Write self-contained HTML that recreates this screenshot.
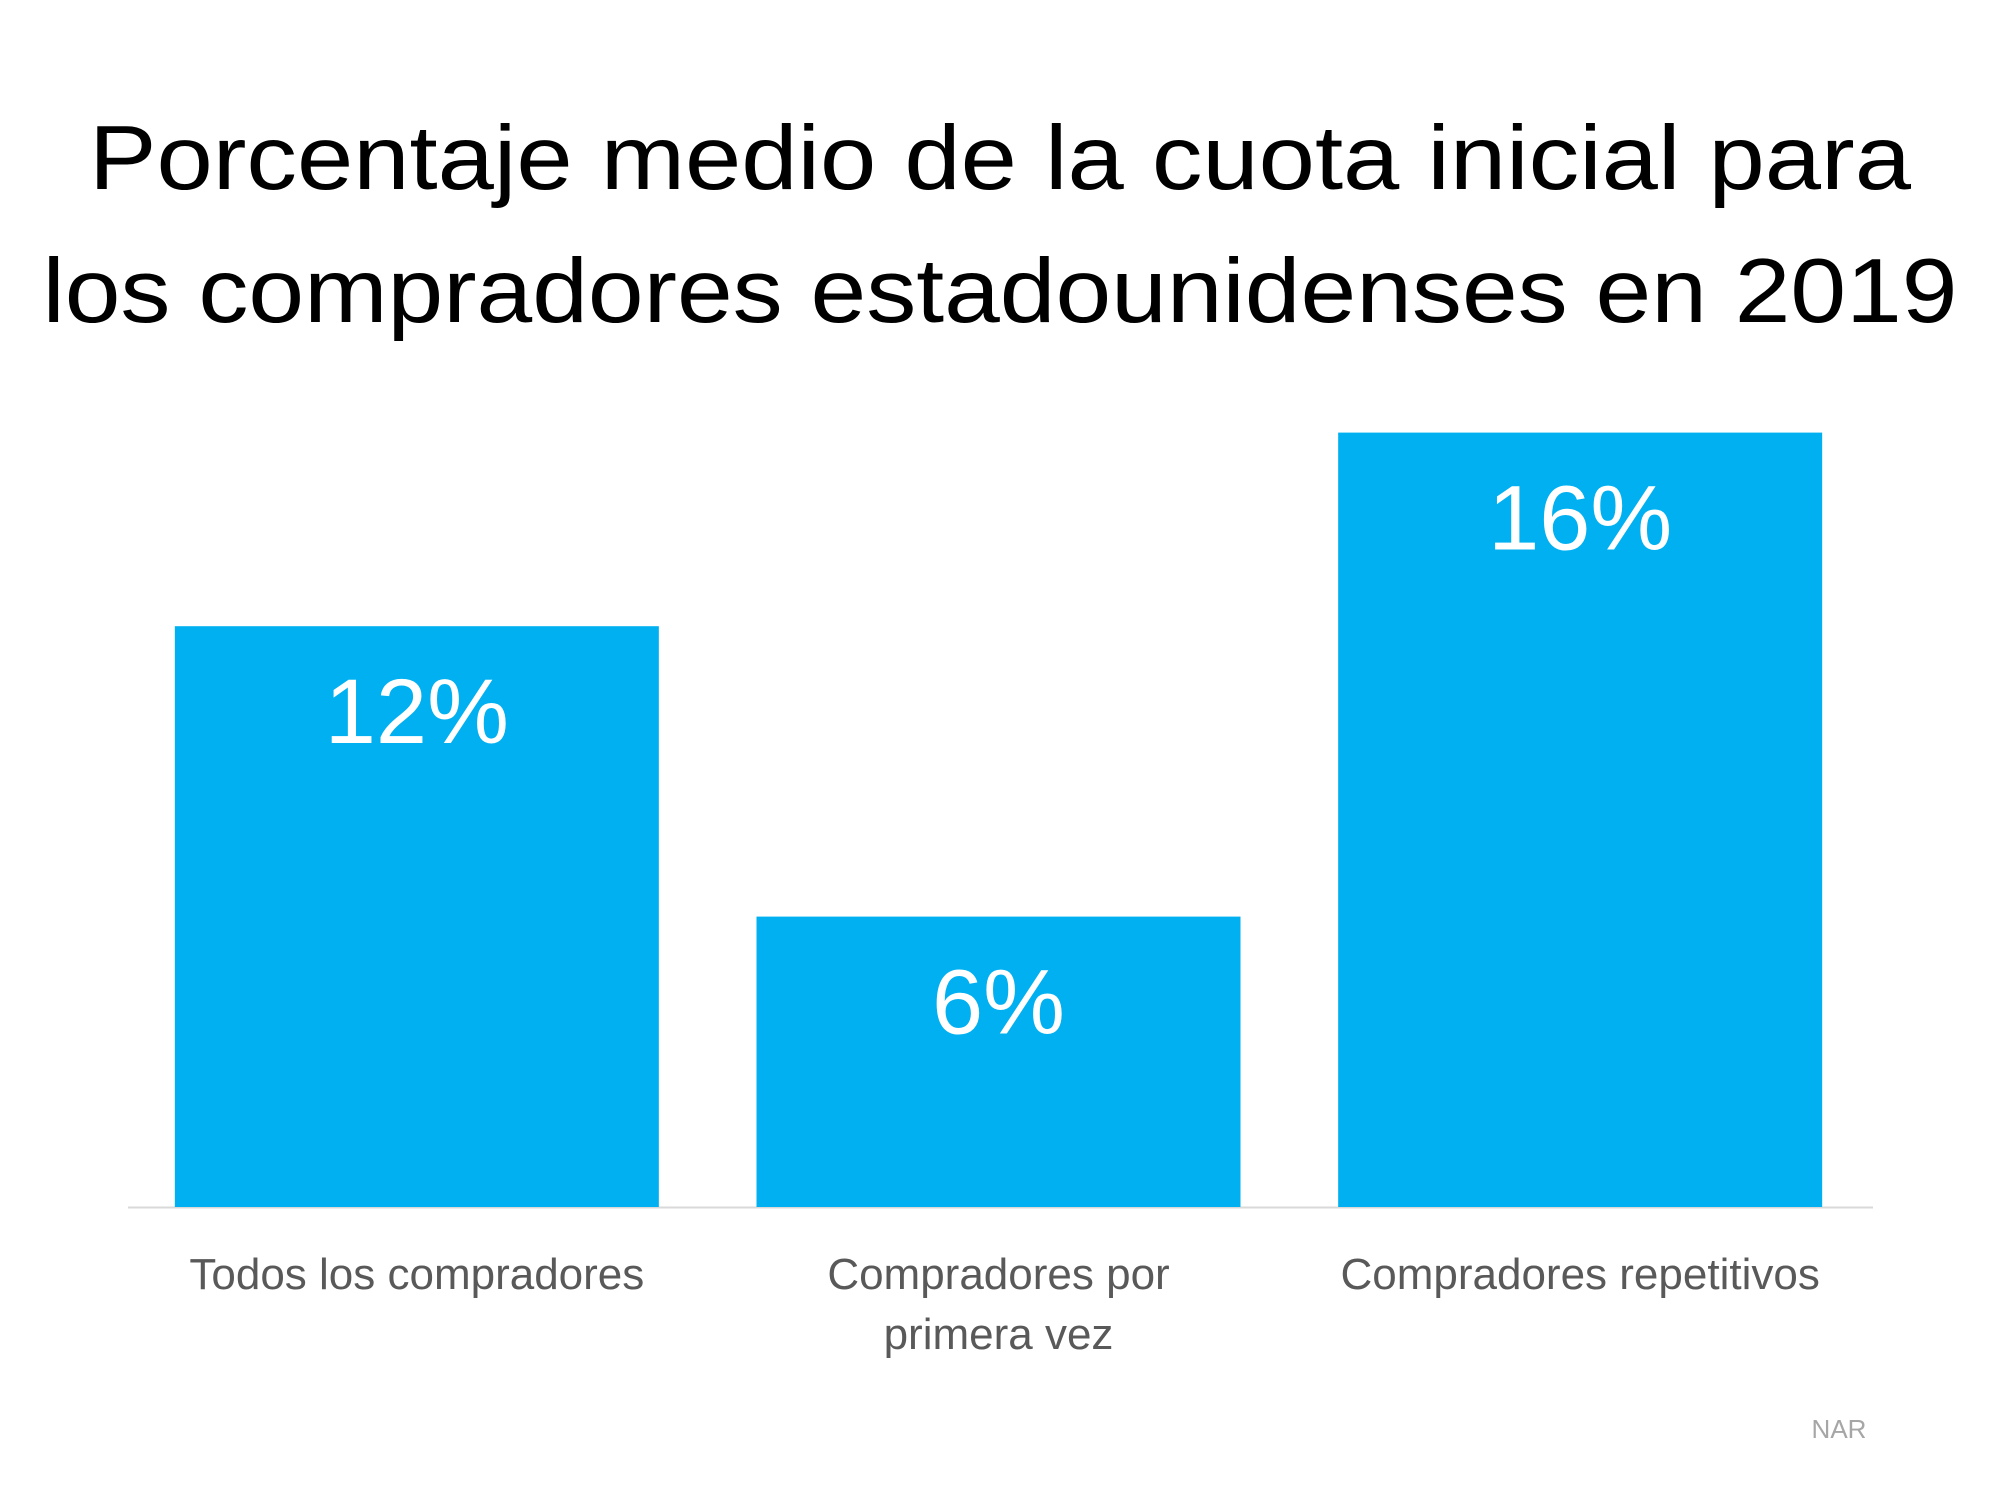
<!DOCTYPE html>
<html><head><meta charset="utf-8"><style>
html,body{margin:0;padding:0;background:#fff;}
svg{display:block;font-family:"Liberation Sans",sans-serif;}
</style></head><body>
<svg id="chart" width="2000" height="1500" viewBox="0 0 2000 1500">
<text x="1000" y="189" text-anchor="middle" font-size="91" fill="#000" textLength="1822" lengthAdjust="spacingAndGlyphs">Porcentaje medio de la cuota inicial para</text>
<text x="1000" y="322" text-anchor="middle" font-size="91" fill="#000" textLength="1915" lengthAdjust="spacingAndGlyphs">los compradores estadounidenses en 2019</text>
<line x1="128" y1="1207.5" x2="1873" y2="1207.5" stroke="#d9d9d9" stroke-width="2"/>
<g id="bars"></g>
<text x="1839" y="1438" text-anchor="middle" font-size="26" fill="#a6a6a6">NAR</text>
</svg>
<script>
const categories = [["Todos los compradores"], ["Compradores por", "primera vez"], ["Compradores repetitivos"]];
const values = [12, 6, 16];
const valueLabels = ["12%", "6%", "16%"];

const NS = "http://www.w3.org/2000/svg";
const baseY = 1207, pxPerUnit = 48.4;
const plotLeft = 128, plotRight = 1873;
const band = (plotRight - plotLeft) / categories.length;
const barW = 484;
function xCenter(i){ return plotLeft + band * (i + 0.5) - 2; }
function yScale(v){ return baseY - v * pxPerUnit; }
const g = document.getElementById('bars');
values.forEach((v, i) => {
  const r = document.createElementNS(NS, 'rect');
  r.setAttribute('x', xCenter(i) - barW / 2);
  r.setAttribute('y', yScale(v));
  r.setAttribute('width', barW);
  r.setAttribute('height', baseY - yScale(v));
  r.setAttribute('fill', '#00b0f0');
  
  
  g.appendChild(r);
  const t = document.createElementNS(NS, 'text');
  t.setAttribute('x', xCenter(i));
  t.setAttribute('y', yScale(v) + 117);
  t.setAttribute('text-anchor', 'middle');
  t.setAttribute('font-size', '92');
  t.setAttribute('fill', '#fff');
  t.textContent = valueLabels[i];
  
  
  g.appendChild(t);
  categories[i].forEach((line, j) => {
    const c = document.createElementNS(NS, 'text');
    c.setAttribute('x', xCenter(i));
    c.setAttribute('y', 1289 + j * 60);
    c.setAttribute('text-anchor', 'middle');
    c.setAttribute('font-size', '44');
    c.setAttribute('fill', '#595959');
    c.textContent = line;
    
    
    g.appendChild(c);
  });
});
</script>
</body></html>
